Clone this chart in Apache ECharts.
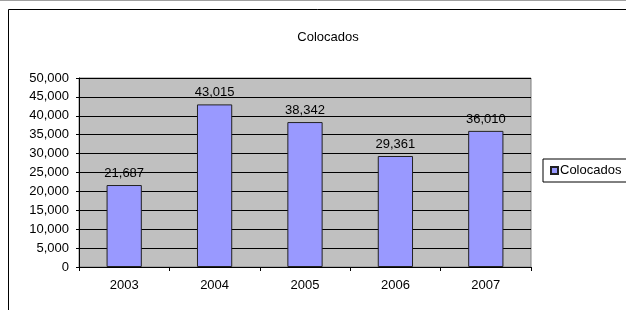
<!DOCTYPE html>
<html>
<head>
<meta charset="utf-8">
<script src="https://cdn.jsdelivr.net/npm/echarts@6/dist/echarts.min.js"></script>
<style>
  html, body { margin: 0; padding: 0; background: #fff; }
  #chart { width: 626px; height: 310px; }
</style>
</head>
<body>
<div id="chart"></div>
<script>
// datos del gráfico
var years = ['2003', '2004', '2005', '2006', '2007'];
var colocados = [21687, 43015, 38342, 29361, 36010];
var yTicks = { min: 0, max: 50000, interval: 5000 };

var font = 'Liberation Sans, Arial, sans-serif';
var fmt = function (v) { return Number(v).toLocaleString('en-US'); };

var myChart = echarts.init(document.getElementById('chart'));
var option = {
    animation: false,
    backgroundColor: '#fff',
    textStyle: { fontFamily: font },
    title: {
        text: 'Colocados',
        left: 323,
        textAlign: 'center',
        top: 26,
        textStyle: { fontSize: 13, fontWeight: 'normal', color: '#000', fontFamily: font }
    },
    legend: {
        data: ['Colocados'],
        left: 543,
        top: 159,
        orient: 'vertical',
        padding: [5, 30, 5, 7],
        borderColor: '#000',
        borderWidth: 1,
        backgroundColor: '#fff',
        icon: 'rect',
        itemWidth: 7,
        itemHeight: 7,
        itemGap: 0,
        textStyle: { fontSize: 13, color: '#000', fontFamily: font, padding: [0, 0, 0, -3] }
    },
    grid: {
        left: 79,
        top: 78,
        width: 452,
        height: 189,
        show: true,
        backgroundColor: '#C0C0C0',
        borderColor: '#808080',
        borderWidth: 1
    },
    xAxis: {
        type: 'category',
        data: years,
        axisLine: { lineStyle: { color: '#000', width: 1 } },
        axisTick: { show: true, length: 4, inside: false, lineStyle: { color: '#000' } },
        axisLabel: { margin: 12, fontSize: 13, color: '#000', fontFamily: font }
    },
    yAxis: {
        type: 'value',
        min: yTicks.min,
        max: yTicks.max,
        interval: yTicks.interval,
        axisLine: { show: true, lineStyle: { color: '#000', width: 1 } },
        axisTick: { show: true, length: 3, lineStyle: { color: '#000' } },
        axisLabel: { margin: 10, fontSize: 13, color: '#000', fontFamily: font, formatter: fmt },
        splitLine: { show: true, lineStyle: { color: '#000', width: 1 } }
    },
    series: [
        {
            name: 'Colocados',
            type: 'bar',
            data: colocados,
            barWidth: '39%',
            itemStyle: { color: '#9999FF', borderColor: '#222', borderWidth: 1 },
            label: {
                show: true,
                position: 'top',
                distance: 5,
                fontSize: 13,
                color: '#000',
                fontFamily: font,
                formatter: function (p) { return fmt(p.value); }
            }
        }
    ],
    graphic: [
        // marco exterior
        {
            type: 'rect',
            shape: { x: 8.5, y: 9.5, width: 700, height: 400 },
            style: { fill: 'none', stroke: '#000', lineWidth: 1 },
            silent: true
        },
        {
            type: 'line',
            shape: { x1: 0, y1: 0.5, x2: 626, y2: 0.5 },
            style: { stroke: '#a0a0a0', lineWidth: 1 },
            silent: true
        }
    ]
};
myChart.setOption(option);
</script>
</body>
</html>
